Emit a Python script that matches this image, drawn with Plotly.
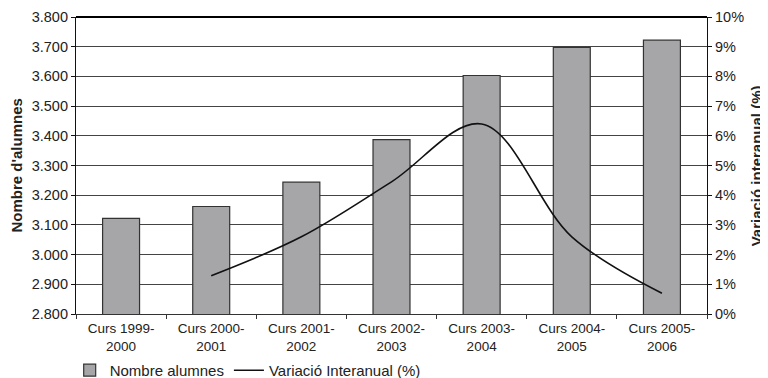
import plotly.graph_objects as go

# Dades
cursos = ["Curs 1999-<br>2000", "Curs 2000-<br>2001", "Curs 2001-<br>2002",
          "Curs 2002-<br>2003", "Curs 2003-<br>2004", "Curs 2004-<br>2005",
          "Curs 2005-<br>2006"]
alumnes = [3122, 3162, 3244, 3387, 3603, 3698, 3722]
variacio = [None, 1.29, 2.6, 4.45, 6.4, 2.6, 0.7]

font = "Liberation Sans, Arial, sans-serif"

fig = go.Figure()

fig.add_trace(go.Bar(
    x=cursos, y=alumnes, name="Nombre alumnes",
    marker=dict(color="#a6a6a8", line=dict(color="#333333", width=1.2)),
    yaxis="y"
))

fig.add_trace(go.Scatter(
    x=cursos, y=variacio, name="Variació Interanual (%)",
    mode="lines", line=dict(color="#111111", width=1.6, shape="spline", smoothing=1),
    yaxis="y2"
))

# la pàgina té 8 px de marge al body: la figura ocupa 760x370
fig.update_layout(
    width=760, height=370,
    margin=dict(l=68, r=61, t=9, b=64, autoexpand=False),
    paper_bgcolor="white", plot_bgcolor="white",
    font=dict(family=font, size=13, color="#222222"),
    separators=",.",
    bargap=0.59,
    showlegend=True,
    legend=dict(orientation="h", x=-0.01, y=-0.19, xanchor="left", yanchor="middle",
                font=dict(size=15), itemwidth=30, tracegroupgap=0,
                bgcolor="rgba(0,0,0,0)"),
    xaxis=dict(showline=True, linecolor="#333333", ticks="outside", tickson="boundaries",
               ticklen=4, tickcolor="#333333", showgrid=False,
               tickfont=dict(size=13.5), automargin=False, ticklabelstandoff=2),
    yaxis=dict(range=[2800, 3800], dtick=100, tickformat=",d",
               showline=True, linecolor="#111111", linewidth=1.2,
               ticks="outside", ticklen=4, tickcolor="#111111",
               showgrid=True, gridcolor="#444444", gridwidth=1,
               tickfont=dict(size=14.5), zeroline=False, automargin=False),
    yaxis2=dict(range=[0, 10], dtick=1, ticksuffix="%", overlaying="y", side="right",
                showline=True, linecolor="#111111", linewidth=1.2,
                ticks="outside", ticklen=4, tickcolor="#111111",
                showgrid=False, tickfont=dict(size=14.5), zeroline=False,
                automargin=False),
    shapes=[dict(type="line", xref="paper", yref="paper", x0=0, x1=1, y0=1, y1=1,
                 line=dict(color="#000000", width=2.2))],
    annotations=[
        dict(text="<b>Nombre d'alumnes</b>", xref="paper", yref="paper",
             x=-0.095, y=0.5, xanchor="center", yanchor="middle",
             textangle=-90, showarrow=False,
             font=dict(size=15, color="#222222")),
        dict(text="<b>Variació interanual (%)</b>", xref="paper", yref="paper",
             x=1.079, y=0.5, xanchor="center", yanchor="middle",
             textangle=-90, showarrow=False,
             font=dict(size=15, color="#222222")),
    ],
)

fig.write_html("out.html")
